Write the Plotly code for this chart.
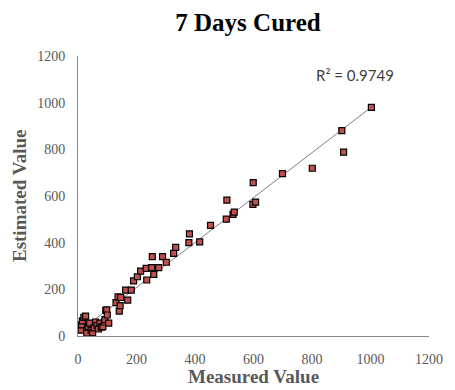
import numpy as np
import plotly.graph_objects as go

measured = [10, 12, 15, 20, 26, 30, 35, 40, 45, 50, 55, 60, 65, 70, 75, 80, 85, 90, 92, 95, 98, 100, 105,
            130, 137, 141, 144, 146, 163, 170, 182, 190, 203, 214, 233, 235, 252, 254, 259, 276, 289, 302, 327, 334,
            379, 381, 416, 453, 507, 509, 530, 534, 598, 599, 607, 699, 801, 902, 908, 1003]
estimated = [25, 48, 65, 80, 85, 12, 40, 55, 25, 15, 35, 60, 45, 30, 55, 38, 40, 60, 70, 110, 112, 90, 55,
             143, 168, 107, 130, 165, 197, 154, 197, 236, 254, 278, 290, 240, 293, 340, 264, 293, 340, 316, 354, 380,
             400, 438, 403, 474, 501, 582, 521, 531, 564, 657, 574, 696, 719, 880, 788, 980]
r2_text = "R² = 0.9749"
x_ticks = [0, 200, 400, 600, 800, 1000, 1200]
y_ticks = [0, 200, 400, 600, 800, 1000, 1200]

xa = np.array(measured, dtype=float)
ya = np.array(estimated, dtype=float)
m, b = np.polyfit(xa, ya, 1)
tx = np.array([xa.min(), xa.max()])
ty = m * tx + b

fig = go.Figure()
fig.add_trace(go.Scatter(x=tx, y=ty, mode="lines", line=dict(color="#7f7f7f", width=1),
                         hoverinfo="skip", showlegend=False))
fig.add_trace(go.Scatter(x=measured, y=estimated, mode="markers",
                         marker=dict(symbol="square", size=6, color="#C0504D",
                                     line=dict(color="#000000", width=1.2)),
                         showlegend=False))

grey = "#595959"
axis_common = dict(range=[0, 1200], showgrid=False, zeroline=False, showline=True,
                   linecolor="#868686", linewidth=1, ticks="outside", tickcolor="rgba(0,0,0,0)",
                   tickfont=dict(family="Liberation Serif", size=14, color=grey))
fig.update_xaxes(**axis_common, tickvals=x_ticks, ticklen=10)
fig.update_yaxes(**axis_common, tickvals=y_ticks, ticklen=9)

fig.update_layout(
    width=455, height=390,
    margin=dict(l=78, r=17, t=56, b=54),
    paper_bgcolor="white", plot_bgcolor="white",
    title=dict(text="<b>7 Days Cured</b>", x=248/455, xanchor="center", xref="container",
               y=1 - 22/390, yanchor="middle", yref="container",
               font=dict(family="Liberation Serif", size=25, color="black")),
    annotations=[
        dict(text="<b>Measured Value</b>", xref="paper", yref="paper", x=0.5, y=-0.143,
             xanchor="center", yanchor="middle", showarrow=False,
             font=dict(family="Liberation Serif", size=19, color=grey)),
        dict(text="<b>Estimated Value</b>", xref="paper", yref="paper", x=-0.168, y=0.5,
             xanchor="center", yanchor="middle", showarrow=False, textangle=-90,
             font=dict(family="Liberation Serif", size=19, color=grey)),
        dict(text=r2_text, xref="paper", yref="paper", x=(362-78)/360, y=(336-75)/280,
             xanchor="center", yanchor="middle", showarrow=False,
             font=dict(family="Lato", size=15, color="#404040")),
    ],
)
fig.write_html("out.html", post_script="document.body.style.margin='0';",
               config={"displayModeBar": False})
